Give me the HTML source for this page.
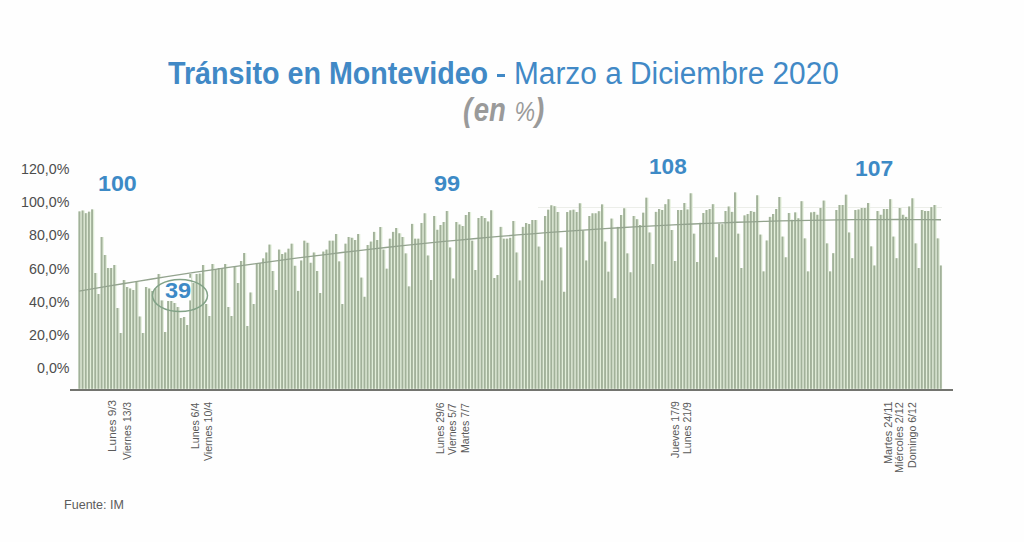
<!DOCTYPE html>
<html><head><meta charset="utf-8"><style>
html,body{margin:0;padding:0;}
body{width:1024px;height:542px;position:relative;overflow:hidden;background:#fefefe;font-family:"Liberation Sans",sans-serif;}
.t{position:absolute;white-space:nowrap;line-height:1;}
.yl{position:absolute;font-size:15px;color:#4d4d4d;line-height:1;white-space:nowrap;transform-origin:0 0;transform:scale(0.95,0.95);}
.dl{position:absolute;font-size:11px;color:#5a5a5a;line-height:1;white-space:nowrap;transform-origin:0 0;}
.lab{position:absolute;font-weight:bold;color:#3d8ac6;line-height:1;white-space:nowrap;transform-origin:0 0;}
</style></head><body>
<svg width="1024" height="542" style="position:absolute;left:0;top:0">
<line x1="538" y1="207.5" x2="942" y2="207.5" stroke="#eceee9" stroke-width="1"/>
<g fill="#e3efdb"><rect x="78.45" y="211.4" width="3.17" height="177.4"/><rect x="81.62" y="210.5" width="3.17" height="178.3"/><rect x="84.78" y="213.2" width="3.17" height="175.6"/><rect x="87.95" y="211.7" width="3.17" height="177.1"/><rect x="91.12" y="209.4" width="3.17" height="179.4"/><rect x="94.28" y="273.0" width="3.17" height="115.8"/><rect x="97.45" y="294.0" width="3.17" height="94.8"/><rect x="100.62" y="237.0" width="3.17" height="151.8"/><rect x="103.79" y="255.0" width="3.17" height="133.8"/><rect x="106.95" y="268.0" width="3.17" height="120.8"/><rect x="110.12" y="268.0" width="3.17" height="120.8"/><rect x="113.29" y="265.0" width="3.17" height="123.8"/><rect x="116.45" y="308.0" width="3.17" height="80.8"/><rect x="119.62" y="333.0" width="3.17" height="55.8"/><rect x="122.79" y="280.0" width="3.17" height="108.8"/><rect x="125.95" y="287.0" width="3.17" height="101.8"/><rect x="129.12" y="288.5" width="3.17" height="100.3"/><rect x="132.29" y="290.0" width="3.17" height="98.8"/><rect x="135.45" y="281.0" width="3.17" height="107.8"/><rect x="138.62" y="316.5" width="3.17" height="72.3"/><rect x="141.79" y="333.0" width="3.17" height="55.8"/><rect x="144.96" y="287.0" width="3.17" height="101.8"/><rect x="148.12" y="288.5" width="3.17" height="100.3"/><rect x="151.29" y="291.0" width="3.17" height="97.8"/><rect x="154.46" y="288.5" width="3.17" height="100.3"/><rect x="157.62" y="274.0" width="3.17" height="114.8"/><rect x="160.79" y="299.0" width="3.17" height="89.8"/><rect x="163.96" y="332.0" width="3.17" height="56.8"/><rect x="167.12" y="301.0" width="3.17" height="87.8"/><rect x="170.29" y="301.0" width="3.17" height="87.8"/><rect x="173.46" y="303.0" width="3.17" height="85.8"/><rect x="176.62" y="307.0" width="3.17" height="81.8"/><rect x="179.79" y="318.0" width="3.17" height="70.8"/><rect x="182.96" y="317.0" width="3.17" height="71.8"/><rect x="186.12" y="325.0" width="3.17" height="63.8"/><rect x="189.29" y="274.0" width="3.17" height="114.8"/><rect x="192.46" y="283.0" width="3.17" height="105.8"/><rect x="195.63" y="274.0" width="3.17" height="114.8"/><rect x="198.79" y="273.6" width="3.17" height="115.2"/><rect x="201.96" y="265.0" width="3.17" height="123.8"/><rect x="205.13" y="304.0" width="3.17" height="84.8"/><rect x="208.29" y="316.0" width="3.17" height="72.8"/><rect x="211.46" y="264.0" width="3.17" height="124.8"/><rect x="214.63" y="269.0" width="3.17" height="119.8"/><rect x="217.79" y="268.0" width="3.17" height="120.8"/><rect x="220.96" y="268.0" width="3.17" height="120.8"/><rect x="224.13" y="264.0" width="3.17" height="124.8"/><rect x="227.29" y="307.0" width="3.17" height="81.8"/><rect x="230.46" y="316.0" width="3.17" height="72.8"/><rect x="233.63" y="267.0" width="3.17" height="121.8"/><rect x="236.80" y="283.0" width="3.17" height="105.8"/><rect x="239.96" y="261.0" width="3.17" height="127.8"/><rect x="243.13" y="253.0" width="3.17" height="135.8"/><rect x="246.30" y="326.0" width="3.17" height="62.8"/><rect x="249.46" y="292.5" width="3.17" height="96.3"/><rect x="252.63" y="304.0" width="3.17" height="84.8"/><rect x="255.80" y="264.0" width="3.17" height="124.8"/><rect x="258.96" y="263.0" width="3.17" height="125.8"/><rect x="262.13" y="258.4" width="3.17" height="130.4"/><rect x="265.30" y="252.5" width="3.17" height="136.3"/><rect x="268.46" y="244.6" width="3.17" height="144.2"/><rect x="271.63" y="271.0" width="3.17" height="117.8"/><rect x="274.80" y="290.0" width="3.17" height="98.8"/><rect x="277.97" y="249.6" width="3.17" height="139.2"/><rect x="281.13" y="254.0" width="3.17" height="134.8"/><rect x="284.30" y="252.5" width="3.17" height="136.3"/><rect x="287.47" y="248.7" width="3.17" height="140.1"/><rect x="290.63" y="243.7" width="3.17" height="145.1"/><rect x="293.80" y="265.8" width="3.17" height="123.0"/><rect x="296.97" y="290.9" width="3.17" height="97.9"/><rect x="300.13" y="260.5" width="3.17" height="128.3"/><rect x="303.30" y="240.7" width="3.17" height="148.1"/><rect x="306.47" y="242.8" width="3.17" height="146.0"/><rect x="309.63" y="262.8" width="3.17" height="126.0"/><rect x="312.80" y="252.5" width="3.17" height="136.3"/><rect x="315.97" y="271.0" width="3.17" height="117.8"/><rect x="319.14" y="293.0" width="3.17" height="95.8"/><rect x="322.30" y="251.6" width="3.17" height="137.2"/><rect x="325.47" y="249.6" width="3.17" height="139.2"/><rect x="328.64" y="240.7" width="3.17" height="148.1"/><rect x="331.80" y="240.7" width="3.17" height="148.1"/><rect x="334.97" y="234.0" width="3.17" height="154.8"/><rect x="338.14" y="261.4" width="3.17" height="127.4"/><rect x="341.30" y="304.0" width="3.17" height="84.8"/><rect x="344.47" y="243.7" width="3.17" height="145.1"/><rect x="347.64" y="237.0" width="3.17" height="151.8"/><rect x="350.80" y="237.8" width="3.17" height="151.0"/><rect x="353.97" y="240.0" width="3.17" height="148.8"/><rect x="357.14" y="234.0" width="3.17" height="154.8"/><rect x="360.31" y="277.6" width="3.17" height="111.2"/><rect x="363.47" y="296.8" width="3.17" height="92.0"/><rect x="366.64" y="245.0" width="3.17" height="143.8"/><rect x="369.81" y="241.6" width="3.17" height="147.2"/><rect x="372.97" y="231.9" width="3.17" height="156.9"/><rect x="376.14" y="240.0" width="3.17" height="148.8"/><rect x="379.31" y="227.0" width="3.17" height="161.8"/><rect x="382.47" y="249.6" width="3.17" height="139.2"/><rect x="385.64" y="268.7" width="3.17" height="120.1"/><rect x="388.81" y="238.7" width="3.17" height="150.1"/><rect x="391.97" y="231.9" width="3.17" height="156.9"/><rect x="395.14" y="228.0" width="3.17" height="160.8"/><rect x="398.31" y="233.3" width="3.17" height="155.5"/><rect x="401.48" y="237.0" width="3.17" height="151.8"/><rect x="404.64" y="253.4" width="3.17" height="135.4"/><rect x="407.81" y="286.4" width="3.17" height="102.4"/><rect x="410.98" y="223.9" width="3.17" height="164.9"/><rect x="414.14" y="238.7" width="3.17" height="150.1"/><rect x="417.31" y="238.7" width="3.17" height="150.1"/><rect x="420.48" y="223.0" width="3.17" height="165.8"/><rect x="423.64" y="213.3" width="3.17" height="175.5"/><rect x="426.81" y="255.5" width="3.17" height="133.3"/><rect x="429.98" y="280.0" width="3.17" height="108.8"/><rect x="433.14" y="216.0" width="3.17" height="172.8"/><rect x="436.31" y="229.8" width="3.17" height="159.0"/><rect x="439.48" y="225.0" width="3.17" height="163.8"/><rect x="442.64" y="222.0" width="3.17" height="166.8"/><rect x="445.81" y="211.0" width="3.17" height="177.8"/><rect x="448.98" y="247.5" width="3.17" height="141.3"/><rect x="452.15" y="278.5" width="3.17" height="110.3"/><rect x="455.31" y="222.0" width="3.17" height="166.8"/><rect x="458.48" y="224.5" width="3.17" height="164.3"/><rect x="461.65" y="226.0" width="3.17" height="162.8"/><rect x="464.81" y="215.0" width="3.17" height="173.8"/><rect x="467.98" y="212.0" width="3.17" height="176.8"/><rect x="471.15" y="240.7" width="3.17" height="148.1"/><rect x="474.31" y="270.0" width="3.17" height="118.8"/><rect x="477.48" y="218.0" width="3.17" height="170.8"/><rect x="480.65" y="216.0" width="3.17" height="172.8"/><rect x="483.81" y="218.0" width="3.17" height="170.8"/><rect x="486.98" y="221.5" width="3.17" height="167.3"/><rect x="490.15" y="210.3" width="3.17" height="178.5"/><rect x="493.32" y="278.0" width="3.17" height="110.8"/><rect x="496.48" y="275.0" width="3.17" height="113.8"/><rect x="499.65" y="226.9" width="3.17" height="161.9"/><rect x="502.82" y="238.7" width="3.17" height="150.1"/><rect x="505.98" y="238.7" width="3.17" height="150.1"/><rect x="509.15" y="237.8" width="3.17" height="151.0"/><rect x="512.32" y="221.0" width="3.17" height="167.8"/><rect x="515.48" y="252.5" width="3.17" height="136.3"/><rect x="518.65" y="280.5" width="3.17" height="108.3"/><rect x="521.82" y="226.9" width="3.17" height="161.9"/><rect x="524.98" y="223.0" width="3.17" height="165.8"/><rect x="528.15" y="224.0" width="3.17" height="164.8"/><rect x="531.32" y="220.0" width="3.17" height="168.8"/><rect x="534.49" y="220.0" width="3.17" height="168.8"/><rect x="537.65" y="246.6" width="3.17" height="142.2"/><rect x="540.82" y="280.5" width="3.17" height="108.3"/><rect x="543.99" y="216.0" width="3.17" height="172.8"/><rect x="547.15" y="209.7" width="3.17" height="179.1"/><rect x="550.32" y="205.3" width="3.17" height="183.5"/><rect x="553.49" y="206.2" width="3.17" height="182.6"/><rect x="556.65" y="212.0" width="3.17" height="176.8"/><rect x="559.82" y="247.5" width="3.17" height="141.3"/><rect x="562.99" y="291.8" width="3.17" height="97.0"/><rect x="566.15" y="212.0" width="3.17" height="176.8"/><rect x="569.32" y="210.3" width="3.17" height="178.5"/><rect x="572.49" y="209.7" width="3.17" height="179.1"/><rect x="575.66" y="212.0" width="3.17" height="176.8"/><rect x="578.82" y="203.3" width="3.17" height="185.5"/><rect x="581.99" y="230.4" width="3.17" height="158.4"/><rect x="585.16" y="260.5" width="3.17" height="128.3"/><rect x="588.32" y="216.0" width="3.17" height="172.8"/><rect x="591.49" y="213.3" width="3.17" height="175.5"/><rect x="594.66" y="213.3" width="3.17" height="175.5"/><rect x="597.82" y="211.2" width="3.17" height="177.6"/><rect x="600.99" y="204.4" width="3.17" height="184.4"/><rect x="604.16" y="241.6" width="3.17" height="147.2"/><rect x="607.32" y="271.7" width="3.17" height="117.1"/><rect x="610.49" y="218.6" width="3.17" height="170.2"/><rect x="613.66" y="298.2" width="3.17" height="90.6"/><rect x="616.82" y="226.9" width="3.17" height="161.9"/><rect x="619.99" y="215.0" width="3.17" height="173.8"/><rect x="623.16" y="208.3" width="3.17" height="180.5"/><rect x="626.33" y="253.4" width="3.17" height="135.4"/><rect x="629.49" y="272.3" width="3.17" height="116.5"/><rect x="632.66" y="216.0" width="3.17" height="172.8"/><rect x="635.83" y="219.2" width="3.17" height="169.6"/><rect x="638.99" y="225.0" width="3.17" height="163.8"/><rect x="642.16" y="212.7" width="3.17" height="176.1"/><rect x="645.33" y="197.7" width="3.17" height="191.1"/><rect x="648.49" y="232.5" width="3.17" height="156.3"/><rect x="651.66" y="264.0" width="3.17" height="124.8"/><rect x="654.83" y="211.9" width="3.17" height="176.9"/><rect x="657.99" y="209.0" width="3.17" height="179.8"/><rect x="661.16" y="210.0" width="3.17" height="178.8"/><rect x="664.33" y="204.2" width="3.17" height="184.6"/><rect x="667.50" y="199.2" width="3.17" height="189.6"/><rect x="670.66" y="230.0" width="3.17" height="158.8"/><rect x="673.83" y="261.0" width="3.17" height="127.8"/><rect x="677.00" y="210.0" width="3.17" height="178.8"/><rect x="680.16" y="210.0" width="3.17" height="178.8"/><rect x="683.33" y="203.0" width="3.17" height="185.8"/><rect x="686.50" y="209.5" width="3.17" height="179.3"/><rect x="689.66" y="193.3" width="3.17" height="195.5"/><rect x="692.83" y="233.7" width="3.17" height="155.1"/><rect x="696.00" y="262.0" width="3.17" height="126.8"/><rect x="699.16" y="222.8" width="3.17" height="166.0"/><rect x="702.33" y="213.0" width="3.17" height="175.8"/><rect x="705.50" y="210.0" width="3.17" height="178.8"/><rect x="708.67" y="209.0" width="3.17" height="179.8"/><rect x="711.83" y="204.2" width="3.17" height="184.6"/><rect x="715.00" y="257.3" width="3.17" height="131.5"/><rect x="718.17" y="223.7" width="3.17" height="165.1"/><rect x="721.33" y="224.2" width="3.17" height="164.6"/><rect x="724.50" y="211.0" width="3.17" height="177.8"/><rect x="727.67" y="206.5" width="3.17" height="182.3"/><rect x="730.83" y="211.9" width="3.17" height="176.9"/><rect x="734.00" y="192.4" width="3.17" height="196.4"/><rect x="737.17" y="233.7" width="3.17" height="155.1"/><rect x="740.33" y="268.0" width="3.17" height="120.8"/><rect x="743.50" y="215.4" width="3.17" height="173.4"/><rect x="746.67" y="214.0" width="3.17" height="174.8"/><rect x="749.84" y="211.0" width="3.17" height="177.8"/><rect x="753.00" y="211.9" width="3.17" height="176.9"/><rect x="756.17" y="195.3" width="3.17" height="193.5"/><rect x="759.34" y="234.6" width="3.17" height="154.2"/><rect x="762.50" y="271.4" width="3.17" height="117.4"/><rect x="765.67" y="240.5" width="3.17" height="148.3"/><rect x="768.84" y="216.9" width="3.17" height="171.9"/><rect x="772.00" y="214.0" width="3.17" height="174.8"/><rect x="775.17" y="209.0" width="3.17" height="179.8"/><rect x="778.34" y="197.0" width="3.17" height="191.8"/><rect x="781.50" y="236.6" width="3.17" height="152.2"/><rect x="784.67" y="257.3" width="3.17" height="131.5"/><rect x="787.84" y="213.0" width="3.17" height="175.8"/><rect x="791.01" y="219.8" width="3.17" height="169.0"/><rect x="794.17" y="212.4" width="3.17" height="176.4"/><rect x="797.34" y="218.3" width="3.17" height="170.5"/><rect x="800.51" y="201.2" width="3.17" height="187.6"/><rect x="803.67" y="238.4" width="3.17" height="150.4"/><rect x="806.84" y="271.4" width="3.17" height="117.4"/><rect x="810.01" y="212.4" width="3.17" height="176.4"/><rect x="813.17" y="211.9" width="3.17" height="176.9"/><rect x="816.34" y="214.8" width="3.17" height="174.0"/><rect x="819.51" y="208.0" width="3.17" height="180.8"/><rect x="822.67" y="200.6" width="3.17" height="188.2"/><rect x="825.84" y="243.4" width="3.17" height="145.4"/><rect x="829.01" y="271.4" width="3.17" height="117.4"/><rect x="832.17" y="253.2" width="3.17" height="135.6"/><rect x="835.34" y="210.0" width="3.17" height="178.8"/><rect x="838.51" y="205.0" width="3.17" height="183.8"/><rect x="841.68" y="205.0" width="3.17" height="183.8"/><rect x="844.84" y="194.7" width="3.17" height="194.1"/><rect x="848.01" y="232.5" width="3.17" height="156.3"/><rect x="851.18" y="258.2" width="3.17" height="130.6"/><rect x="854.34" y="210.0" width="3.17" height="178.8"/><rect x="857.51" y="209.5" width="3.17" height="179.3"/><rect x="860.68" y="208.0" width="3.17" height="180.8"/><rect x="863.84" y="208.0" width="3.17" height="180.8"/><rect x="867.01" y="203.0" width="3.17" height="185.8"/><rect x="870.18" y="246.4" width="3.17" height="142.4"/><rect x="873.34" y="265.5" width="3.17" height="123.3"/><rect x="876.51" y="211.0" width="3.17" height="177.8"/><rect x="879.68" y="214.8" width="3.17" height="174.0"/><rect x="882.85" y="209.0" width="3.17" height="179.8"/><rect x="886.01" y="209.0" width="3.17" height="179.8"/><rect x="889.18" y="199.2" width="3.17" height="189.6"/><rect x="892.35" y="236.6" width="3.17" height="152.2"/><rect x="895.51" y="258.2" width="3.17" height="130.6"/><rect x="898.68" y="208.0" width="3.17" height="180.8"/><rect x="901.85" y="214.8" width="3.17" height="174.0"/><rect x="905.01" y="216.9" width="3.17" height="171.9"/><rect x="908.18" y="206.5" width="3.17" height="182.3"/><rect x="911.35" y="198.3" width="3.17" height="190.5"/><rect x="914.51" y="243.4" width="3.17" height="145.4"/><rect x="917.68" y="268.0" width="3.17" height="120.8"/><rect x="920.85" y="210.0" width="3.17" height="178.8"/><rect x="924.02" y="211.0" width="3.17" height="177.8"/><rect x="927.18" y="211.0" width="3.17" height="177.8"/><rect x="930.35" y="207.1" width="3.17" height="181.7"/><rect x="933.52" y="205.0" width="3.17" height="183.8"/><rect x="936.68" y="238.4" width="3.17" height="150.4"/><rect x="939.85" y="265.5" width="2.30" height="123.3"/></g>
<g fill="#a2b19a"><rect x="78.45" y="211.4" width="1.9" height="177.4"/><rect x="81.62" y="210.5" width="1.9" height="178.3"/><rect x="84.78" y="213.2" width="1.9" height="175.6"/><rect x="87.95" y="211.7" width="1.9" height="177.1"/><rect x="91.12" y="209.4" width="1.9" height="179.4"/><rect x="94.28" y="273.0" width="1.9" height="115.8"/><rect x="97.45" y="294.0" width="1.9" height="94.8"/><rect x="100.62" y="237.0" width="1.9" height="151.8"/><rect x="103.79" y="255.0" width="1.9" height="133.8"/><rect x="106.95" y="268.0" width="1.9" height="120.8"/><rect x="110.12" y="268.0" width="1.9" height="120.8"/><rect x="113.29" y="265.0" width="1.9" height="123.8"/><rect x="116.45" y="308.0" width="1.9" height="80.8"/><rect x="119.62" y="333.0" width="1.9" height="55.8"/><rect x="122.79" y="280.0" width="1.9" height="108.8"/><rect x="125.95" y="287.0" width="1.9" height="101.8"/><rect x="129.12" y="288.5" width="1.9" height="100.3"/><rect x="132.29" y="290.0" width="1.9" height="98.8"/><rect x="135.45" y="281.0" width="1.9" height="107.8"/><rect x="138.62" y="316.5" width="1.9" height="72.3"/><rect x="141.79" y="333.0" width="1.9" height="55.8"/><rect x="144.96" y="287.0" width="1.9" height="101.8"/><rect x="148.12" y="288.5" width="1.9" height="100.3"/><rect x="151.29" y="291.0" width="1.9" height="97.8"/><rect x="154.46" y="288.5" width="1.9" height="100.3"/><rect x="157.62" y="274.0" width="1.9" height="114.8"/><rect x="160.79" y="299.0" width="1.9" height="89.8"/><rect x="163.96" y="332.0" width="1.9" height="56.8"/><rect x="167.12" y="301.0" width="1.9" height="87.8"/><rect x="170.29" y="301.0" width="1.9" height="87.8"/><rect x="173.46" y="303.0" width="1.9" height="85.8"/><rect x="176.62" y="307.0" width="1.9" height="81.8"/><rect x="179.79" y="318.0" width="1.9" height="70.8"/><rect x="182.96" y="317.0" width="1.9" height="71.8"/><rect x="186.12" y="325.0" width="1.9" height="63.8"/><rect x="189.29" y="274.0" width="1.9" height="114.8"/><rect x="192.46" y="283.0" width="1.9" height="105.8"/><rect x="195.63" y="274.0" width="1.9" height="114.8"/><rect x="198.79" y="273.6" width="1.9" height="115.2"/><rect x="201.96" y="265.0" width="1.9" height="123.8"/><rect x="205.13" y="304.0" width="1.9" height="84.8"/><rect x="208.29" y="316.0" width="1.9" height="72.8"/><rect x="211.46" y="264.0" width="1.9" height="124.8"/><rect x="214.63" y="269.0" width="1.9" height="119.8"/><rect x="217.79" y="268.0" width="1.9" height="120.8"/><rect x="220.96" y="268.0" width="1.9" height="120.8"/><rect x="224.13" y="264.0" width="1.9" height="124.8"/><rect x="227.29" y="307.0" width="1.9" height="81.8"/><rect x="230.46" y="316.0" width="1.9" height="72.8"/><rect x="233.63" y="267.0" width="1.9" height="121.8"/><rect x="236.80" y="283.0" width="1.9" height="105.8"/><rect x="239.96" y="261.0" width="1.9" height="127.8"/><rect x="243.13" y="253.0" width="1.9" height="135.8"/><rect x="246.30" y="326.0" width="1.9" height="62.8"/><rect x="249.46" y="292.5" width="1.9" height="96.3"/><rect x="252.63" y="304.0" width="1.9" height="84.8"/><rect x="255.80" y="264.0" width="1.9" height="124.8"/><rect x="258.96" y="263.0" width="1.9" height="125.8"/><rect x="262.13" y="258.4" width="1.9" height="130.4"/><rect x="265.30" y="252.5" width="1.9" height="136.3"/><rect x="268.46" y="244.6" width="1.9" height="144.2"/><rect x="271.63" y="271.0" width="1.9" height="117.8"/><rect x="274.80" y="290.0" width="1.9" height="98.8"/><rect x="277.97" y="249.6" width="1.9" height="139.2"/><rect x="281.13" y="254.0" width="1.9" height="134.8"/><rect x="284.30" y="252.5" width="1.9" height="136.3"/><rect x="287.47" y="248.7" width="1.9" height="140.1"/><rect x="290.63" y="243.7" width="1.9" height="145.1"/><rect x="293.80" y="265.8" width="1.9" height="123.0"/><rect x="296.97" y="290.9" width="1.9" height="97.9"/><rect x="300.13" y="260.5" width="1.9" height="128.3"/><rect x="303.30" y="240.7" width="1.9" height="148.1"/><rect x="306.47" y="242.8" width="1.9" height="146.0"/><rect x="309.63" y="262.8" width="1.9" height="126.0"/><rect x="312.80" y="252.5" width="1.9" height="136.3"/><rect x="315.97" y="271.0" width="1.9" height="117.8"/><rect x="319.14" y="293.0" width="1.9" height="95.8"/><rect x="322.30" y="251.6" width="1.9" height="137.2"/><rect x="325.47" y="249.6" width="1.9" height="139.2"/><rect x="328.64" y="240.7" width="1.9" height="148.1"/><rect x="331.80" y="240.7" width="1.9" height="148.1"/><rect x="334.97" y="234.0" width="1.9" height="154.8"/><rect x="338.14" y="261.4" width="1.9" height="127.4"/><rect x="341.30" y="304.0" width="1.9" height="84.8"/><rect x="344.47" y="243.7" width="1.9" height="145.1"/><rect x="347.64" y="237.0" width="1.9" height="151.8"/><rect x="350.80" y="237.8" width="1.9" height="151.0"/><rect x="353.97" y="240.0" width="1.9" height="148.8"/><rect x="357.14" y="234.0" width="1.9" height="154.8"/><rect x="360.31" y="277.6" width="1.9" height="111.2"/><rect x="363.47" y="296.8" width="1.9" height="92.0"/><rect x="366.64" y="245.0" width="1.9" height="143.8"/><rect x="369.81" y="241.6" width="1.9" height="147.2"/><rect x="372.97" y="231.9" width="1.9" height="156.9"/><rect x="376.14" y="240.0" width="1.9" height="148.8"/><rect x="379.31" y="227.0" width="1.9" height="161.8"/><rect x="382.47" y="249.6" width="1.9" height="139.2"/><rect x="385.64" y="268.7" width="1.9" height="120.1"/><rect x="388.81" y="238.7" width="1.9" height="150.1"/><rect x="391.97" y="231.9" width="1.9" height="156.9"/><rect x="395.14" y="228.0" width="1.9" height="160.8"/><rect x="398.31" y="233.3" width="1.9" height="155.5"/><rect x="401.48" y="237.0" width="1.9" height="151.8"/><rect x="404.64" y="253.4" width="1.9" height="135.4"/><rect x="407.81" y="286.4" width="1.9" height="102.4"/><rect x="410.98" y="223.9" width="1.9" height="164.9"/><rect x="414.14" y="238.7" width="1.9" height="150.1"/><rect x="417.31" y="238.7" width="1.9" height="150.1"/><rect x="420.48" y="223.0" width="1.9" height="165.8"/><rect x="423.64" y="213.3" width="1.9" height="175.5"/><rect x="426.81" y="255.5" width="1.9" height="133.3"/><rect x="429.98" y="280.0" width="1.9" height="108.8"/><rect x="433.14" y="216.0" width="1.9" height="172.8"/><rect x="436.31" y="229.8" width="1.9" height="159.0"/><rect x="439.48" y="225.0" width="1.9" height="163.8"/><rect x="442.64" y="222.0" width="1.9" height="166.8"/><rect x="445.81" y="211.0" width="1.9" height="177.8"/><rect x="448.98" y="247.5" width="1.9" height="141.3"/><rect x="452.15" y="278.5" width="1.9" height="110.3"/><rect x="455.31" y="222.0" width="1.9" height="166.8"/><rect x="458.48" y="224.5" width="1.9" height="164.3"/><rect x="461.65" y="226.0" width="1.9" height="162.8"/><rect x="464.81" y="215.0" width="1.9" height="173.8"/><rect x="467.98" y="212.0" width="1.9" height="176.8"/><rect x="471.15" y="240.7" width="1.9" height="148.1"/><rect x="474.31" y="270.0" width="1.9" height="118.8"/><rect x="477.48" y="218.0" width="1.9" height="170.8"/><rect x="480.65" y="216.0" width="1.9" height="172.8"/><rect x="483.81" y="218.0" width="1.9" height="170.8"/><rect x="486.98" y="221.5" width="1.9" height="167.3"/><rect x="490.15" y="210.3" width="1.9" height="178.5"/><rect x="493.32" y="278.0" width="1.9" height="110.8"/><rect x="496.48" y="275.0" width="1.9" height="113.8"/><rect x="499.65" y="226.9" width="1.9" height="161.9"/><rect x="502.82" y="238.7" width="1.9" height="150.1"/><rect x="505.98" y="238.7" width="1.9" height="150.1"/><rect x="509.15" y="237.8" width="1.9" height="151.0"/><rect x="512.32" y="221.0" width="1.9" height="167.8"/><rect x="515.48" y="252.5" width="1.9" height="136.3"/><rect x="518.65" y="280.5" width="1.9" height="108.3"/><rect x="521.82" y="226.9" width="1.9" height="161.9"/><rect x="524.98" y="223.0" width="1.9" height="165.8"/><rect x="528.15" y="224.0" width="1.9" height="164.8"/><rect x="531.32" y="220.0" width="1.9" height="168.8"/><rect x="534.49" y="220.0" width="1.9" height="168.8"/><rect x="537.65" y="246.6" width="1.9" height="142.2"/><rect x="540.82" y="280.5" width="1.9" height="108.3"/><rect x="543.99" y="216.0" width="1.9" height="172.8"/><rect x="547.15" y="209.7" width="1.9" height="179.1"/><rect x="550.32" y="205.3" width="1.9" height="183.5"/><rect x="553.49" y="206.2" width="1.9" height="182.6"/><rect x="556.65" y="212.0" width="1.9" height="176.8"/><rect x="559.82" y="247.5" width="1.9" height="141.3"/><rect x="562.99" y="291.8" width="1.9" height="97.0"/><rect x="566.15" y="212.0" width="1.9" height="176.8"/><rect x="569.32" y="210.3" width="1.9" height="178.5"/><rect x="572.49" y="209.7" width="1.9" height="179.1"/><rect x="575.66" y="212.0" width="1.9" height="176.8"/><rect x="578.82" y="203.3" width="1.9" height="185.5"/><rect x="581.99" y="230.4" width="1.9" height="158.4"/><rect x="585.16" y="260.5" width="1.9" height="128.3"/><rect x="588.32" y="216.0" width="1.9" height="172.8"/><rect x="591.49" y="213.3" width="1.9" height="175.5"/><rect x="594.66" y="213.3" width="1.9" height="175.5"/><rect x="597.82" y="211.2" width="1.9" height="177.6"/><rect x="600.99" y="204.4" width="1.9" height="184.4"/><rect x="604.16" y="241.6" width="1.9" height="147.2"/><rect x="607.32" y="271.7" width="1.9" height="117.1"/><rect x="610.49" y="218.6" width="1.9" height="170.2"/><rect x="613.66" y="298.2" width="1.9" height="90.6"/><rect x="616.82" y="226.9" width="1.9" height="161.9"/><rect x="619.99" y="215.0" width="1.9" height="173.8"/><rect x="623.16" y="208.3" width="1.9" height="180.5"/><rect x="626.33" y="253.4" width="1.9" height="135.4"/><rect x="629.49" y="272.3" width="1.9" height="116.5"/><rect x="632.66" y="216.0" width="1.9" height="172.8"/><rect x="635.83" y="219.2" width="1.9" height="169.6"/><rect x="638.99" y="225.0" width="1.9" height="163.8"/><rect x="642.16" y="212.7" width="1.9" height="176.1"/><rect x="645.33" y="197.7" width="1.9" height="191.1"/><rect x="648.49" y="232.5" width="1.9" height="156.3"/><rect x="651.66" y="264.0" width="1.9" height="124.8"/><rect x="654.83" y="211.9" width="1.9" height="176.9"/><rect x="657.99" y="209.0" width="1.9" height="179.8"/><rect x="661.16" y="210.0" width="1.9" height="178.8"/><rect x="664.33" y="204.2" width="1.9" height="184.6"/><rect x="667.50" y="199.2" width="1.9" height="189.6"/><rect x="670.66" y="230.0" width="1.9" height="158.8"/><rect x="673.83" y="261.0" width="1.9" height="127.8"/><rect x="677.00" y="210.0" width="1.9" height="178.8"/><rect x="680.16" y="210.0" width="1.9" height="178.8"/><rect x="683.33" y="203.0" width="1.9" height="185.8"/><rect x="686.50" y="209.5" width="1.9" height="179.3"/><rect x="689.66" y="193.3" width="1.9" height="195.5"/><rect x="692.83" y="233.7" width="1.9" height="155.1"/><rect x="696.00" y="262.0" width="1.9" height="126.8"/><rect x="699.16" y="222.8" width="1.9" height="166.0"/><rect x="702.33" y="213.0" width="1.9" height="175.8"/><rect x="705.50" y="210.0" width="1.9" height="178.8"/><rect x="708.67" y="209.0" width="1.9" height="179.8"/><rect x="711.83" y="204.2" width="1.9" height="184.6"/><rect x="715.00" y="257.3" width="1.9" height="131.5"/><rect x="718.17" y="223.7" width="1.9" height="165.1"/><rect x="721.33" y="224.2" width="1.9" height="164.6"/><rect x="724.50" y="211.0" width="1.9" height="177.8"/><rect x="727.67" y="206.5" width="1.9" height="182.3"/><rect x="730.83" y="211.9" width="1.9" height="176.9"/><rect x="734.00" y="192.4" width="1.9" height="196.4"/><rect x="737.17" y="233.7" width="1.9" height="155.1"/><rect x="740.33" y="268.0" width="1.9" height="120.8"/><rect x="743.50" y="215.4" width="1.9" height="173.4"/><rect x="746.67" y="214.0" width="1.9" height="174.8"/><rect x="749.84" y="211.0" width="1.9" height="177.8"/><rect x="753.00" y="211.9" width="1.9" height="176.9"/><rect x="756.17" y="195.3" width="1.9" height="193.5"/><rect x="759.34" y="234.6" width="1.9" height="154.2"/><rect x="762.50" y="271.4" width="1.9" height="117.4"/><rect x="765.67" y="240.5" width="1.9" height="148.3"/><rect x="768.84" y="216.9" width="1.9" height="171.9"/><rect x="772.00" y="214.0" width="1.9" height="174.8"/><rect x="775.17" y="209.0" width="1.9" height="179.8"/><rect x="778.34" y="197.0" width="1.9" height="191.8"/><rect x="781.50" y="236.6" width="1.9" height="152.2"/><rect x="784.67" y="257.3" width="1.9" height="131.5"/><rect x="787.84" y="213.0" width="1.9" height="175.8"/><rect x="791.01" y="219.8" width="1.9" height="169.0"/><rect x="794.17" y="212.4" width="1.9" height="176.4"/><rect x="797.34" y="218.3" width="1.9" height="170.5"/><rect x="800.51" y="201.2" width="1.9" height="187.6"/><rect x="803.67" y="238.4" width="1.9" height="150.4"/><rect x="806.84" y="271.4" width="1.9" height="117.4"/><rect x="810.01" y="212.4" width="1.9" height="176.4"/><rect x="813.17" y="211.9" width="1.9" height="176.9"/><rect x="816.34" y="214.8" width="1.9" height="174.0"/><rect x="819.51" y="208.0" width="1.9" height="180.8"/><rect x="822.67" y="200.6" width="1.9" height="188.2"/><rect x="825.84" y="243.4" width="1.9" height="145.4"/><rect x="829.01" y="271.4" width="1.9" height="117.4"/><rect x="832.17" y="253.2" width="1.9" height="135.6"/><rect x="835.34" y="210.0" width="1.9" height="178.8"/><rect x="838.51" y="205.0" width="1.9" height="183.8"/><rect x="841.68" y="205.0" width="1.9" height="183.8"/><rect x="844.84" y="194.7" width="1.9" height="194.1"/><rect x="848.01" y="232.5" width="1.9" height="156.3"/><rect x="851.18" y="258.2" width="1.9" height="130.6"/><rect x="854.34" y="210.0" width="1.9" height="178.8"/><rect x="857.51" y="209.5" width="1.9" height="179.3"/><rect x="860.68" y="208.0" width="1.9" height="180.8"/><rect x="863.84" y="208.0" width="1.9" height="180.8"/><rect x="867.01" y="203.0" width="1.9" height="185.8"/><rect x="870.18" y="246.4" width="1.9" height="142.4"/><rect x="873.34" y="265.5" width="1.9" height="123.3"/><rect x="876.51" y="211.0" width="1.9" height="177.8"/><rect x="879.68" y="214.8" width="1.9" height="174.0"/><rect x="882.85" y="209.0" width="1.9" height="179.8"/><rect x="886.01" y="209.0" width="1.9" height="179.8"/><rect x="889.18" y="199.2" width="1.9" height="189.6"/><rect x="892.35" y="236.6" width="1.9" height="152.2"/><rect x="895.51" y="258.2" width="1.9" height="130.6"/><rect x="898.68" y="208.0" width="1.9" height="180.8"/><rect x="901.85" y="214.8" width="1.9" height="174.0"/><rect x="905.01" y="216.9" width="1.9" height="171.9"/><rect x="908.18" y="206.5" width="1.9" height="182.3"/><rect x="911.35" y="198.3" width="1.9" height="190.5"/><rect x="914.51" y="243.4" width="1.9" height="145.4"/><rect x="917.68" y="268.0" width="1.9" height="120.8"/><rect x="920.85" y="210.0" width="1.9" height="178.8"/><rect x="924.02" y="211.0" width="1.9" height="177.8"/><rect x="927.18" y="211.0" width="1.9" height="177.8"/><rect x="930.35" y="207.1" width="1.9" height="181.7"/><rect x="933.52" y="205.0" width="1.9" height="183.8"/><rect x="936.68" y="238.4" width="1.9" height="150.4"/><rect x="939.85" y="265.5" width="1.9" height="123.3"/></g>
<rect x="160" y="277.8" width="31" height="22.6" fill="#fdfefd"/>
<polyline points="79.0,291.22 93.6,288.69 108.2,286.19 122.8,283.74 137.4,281.34 152.1,278.99 166.7,276.68 181.3,274.41 195.9,272.19 210.5,270.02 225.1,267.89 239.7,265.81 254.3,263.77 268.9,261.78 283.5,259.84 298.2,257.94 312.8,256.09 327.4,254.28 342.0,252.52 356.6,250.81 371.2,249.14 385.8,247.51 400.4,245.93 415.0,244.40 429.6,242.92 444.3,241.47 458.9,240.08 473.5,238.73 488.1,237.43 502.7,236.17 517.3,234.96 531.9,233.79 546.5,232.67 561.1,231.60 575.7,230.57 590.4,229.59 605.0,228.65 619.6,227.76 634.2,226.91 648.8,226.11 663.4,225.36 678.0,224.65 692.6,223.99 707.2,223.37 721.8,222.80 736.5,222.27 751.1,221.79 765.7,221.36 780.3,220.97 794.9,220.63 809.5,220.33 824.1,220.08 838.7,219.88 853.3,219.72 867.9,219.61 882.6,219.54 897.2,219.52 911.8,219.54 926.4,219.61 941.0,219.73" fill="none" stroke="#93a38e" stroke-width="1.3"/>
<line x1="70" y1="390" x2="953" y2="390" stroke="#73746f" stroke-width="2"/>
<ellipse cx="180" cy="295.5" rx="27.5" ry="16" fill="none" stroke="#82a287" stroke-width="1.5"/>
</svg>
<div class="t" style="left:168px;top:58.2px;font-size:31.5px;font-weight:bold;color:#4189c6;transform-origin:0 0;transform:scaleX(0.91);">Tránsito en Montevideo</div>
<div style="position:absolute;left:497.3px;top:74px;width:8px;height:2.9px;background:#4189c6;"></div>
<div class="t" style="left:513.8px;top:57.6px;font-size:31px;color:#4189c6;transform-origin:0 0;transform:scaleX(0.962);">Marzo a Diciembre 2020</div>
<div class="t" style="left:463px;top:93px;font-size:33px;font-weight:bold;font-style:italic;color:#9a9a9a;transform-origin:0 0;transform:scaleX(0.836);">(<span style="margin-left:1.8px">en</span> <span style="font-weight:normal;font-size:0.84em;margin-left:1px">%</span>)</div>
<div class="yl" style="left:21.3px;top:161.9px">120,0%</div><div class="yl" style="left:21.3px;top:195.1px">100,0%</div><div class="yl" style="left:29.3px;top:228.4px">80,0%</div><div class="yl" style="left:29.3px;top:261.6px">60,0%</div><div class="yl" style="left:29.3px;top:294.8px">40,0%</div><div class="yl" style="left:29.3px;top:328.1px">20,0%</div><div class="yl" style="left:37.3px;top:361.3px">0,0%</div>
<div class="lab" style="left:98.0px;top:172.4px;font-size:22px;transform:scale(1.057,1.029)">100</div><div class="lab" style="left:434.4px;top:173.3px;font-size:22px;transform:scale(1.070,1.017)">99</div><div class="lab" style="left:649.4px;top:156.1px;font-size:22px;transform:scale(1.029,0.979)">108</div><div class="lab" style="left:855.2px;top:157.9px;font-size:22px;transform:scale(1.040,0.991)">107</div><div class="lab" style="left:164.8px;top:280.0px;font-size:22px;transform:scale(1.070,0.979)">39</div>
<div class="dl" style="left:106.5px;top:451.7px;transform:rotate(-90deg) scaleX(1.081)">Lunes 9/3</div><div class="dl" style="left:122.1px;top:460.4px;transform:rotate(-90deg) scaleX(0.944)">Viernes 13/3</div><div class="dl" style="left:190.4px;top:448.9px;transform:rotate(-90deg) scaleX(0.957)">Lunes 6/4</div><div class="dl" style="left:202.7px;top:460.9px;transform:rotate(-90deg) scaleX(0.961)">Viernes 10/4</div><div class="dl" style="left:434.7px;top:454.2px;transform:rotate(-90deg) scaleX(0.947)">Lunes 29/6</div><div class="dl" style="left:447.4px;top:455.0px;transform:rotate(-90deg) scaleX(0.927)">Viernes 5/7</div><div class="dl" style="left:460.1px;top:453.0px;transform:rotate(-90deg) scaleX(0.960)">Martes 7/7</div><div class="dl" style="left:669.6px;top:458.1px;transform:rotate(-90deg) scaleX(0.959)">Jueves 17/9</div><div class="dl" style="left:682.1px;top:453.8px;transform:rotate(-90deg) scaleX(0.951)">Lunes 21/9</div><div class="dl" style="left:883.1px;top:464.2px;transform:rotate(-90deg) scaleX(0.987)">Martes 24/11</div><div class="dl" style="left:894.0px;top:472.8px;transform:rotate(-90deg) scaleX(0.991)">Miércoles 2/12</div><div class="dl" style="left:906.7px;top:468.1px;transform:rotate(-90deg) scaleX(0.961)">Domingo 6/12</div>
<div class="t" style="left:63.8px;top:497.7px;font-size:13.5px;color:#5c5c5c;transform-origin:0 0;transform:scale(0.930,0.971)">Fuente: IM</div>
</body></html>
